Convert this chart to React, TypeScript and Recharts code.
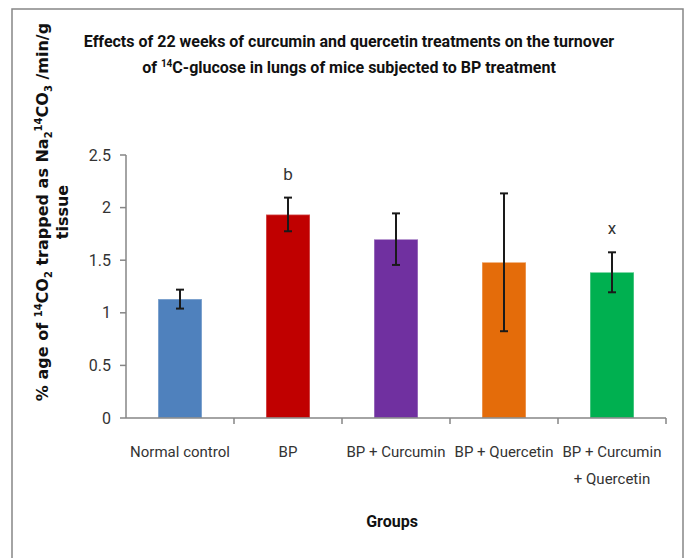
import {
  Bar,
  Cell,
  ComposedChart,
  ErrorBar,
  LabelList,
  Line,
  XAxis,
  YAxis,
} from "recharts";

const groups = [
  "Normal control",
  "BP",
  "BP + Curcumin",
  "BP + Quercetin",
  "BP + Curcumin\n+ Quercetin",
];
const means = [1.13, 1.935, 1.7, 1.48, 1.385];
const errors = [0.09, 0.16, 0.245, 0.655, 0.19];
const marks = ["", "b", "", "", "x"];
const barColors = ["#4F81BD", "#C00000", "#7030A0", "#E46C0A", "#00B050"];
const yTicks = [0, 0.5, 1, 1.5, 2, 2.5];

const data = groups.map((group, i) => ({
  group,
  mean: means[i],
  err: errors[i],
  top: means[i] + errors[i],
  mark: marks[i],
}));

const FONT = "Roboto, 'Liberation Sans', sans-serif";
const AXIS = "#868686";

function GroupTick(props: any) {
  const { x, y, payload } = props;
  const half = payload?.offset || 54;
  const lines = String(payload.value).split("\n");
  const axisY = y - 14;
  return (
    <g>
      <line x1={x + half} y1={axisY} x2={x + half} y2={axisY + 6} stroke={AXIS} strokeWidth={1.5} />
      <text x={x} y={axisY + 39} textAnchor="middle" fontFamily={FONT} fontSize={15} fill="#333">
        {lines.map((l, i) => (
          <tspan key={i} x={x} dy={i === 0 ? 0 : 27}>
            {l}
          </tspan>
        ))}
      </text>
    </g>
  );
}

function YLabel() {
  return (
    <g>
      <text
        transform="translate(48,212) rotate(-90)"
        textAnchor="middle"
        fontFamily="'DejaVu Sans', Verdana, sans-serif"
        fontWeight="bold"
        fontSize={16}
        fill="#111"
      >
        <tspan>% age of </tspan>
        <tspan fontSize={10} dy={-6}>14</tspan>
        <tspan dy={6}>CO</tspan>
        <tspan fontSize={10} dy={4}>2</tspan>
        <tspan dy={-4}> trapped as Na</tspan>
        <tspan fontSize={10} dy={4}>2</tspan>
        <tspan fontSize={10} dy={-10}>14</tspan>
        <tspan dy={6}>CO</tspan>
        <tspan fontSize={10} dy={4}>3</tspan>
        <tspan dy={-4}> /min/g</tspan>
      </text>
      <text
        transform="translate(68,212) rotate(-90)"
        textAnchor="middle"
        fontFamily="'DejaVu Sans', Verdana, sans-serif"
        fontWeight="bold"
        fontSize={16}
        fill="#111"
      >
        tissue
      </text>
    </g>
  );
}

export default function App() {
  return (
    <div style={{ position: "absolute", left: 0, top: 0, width: 686, height: 558, background: "#fff" }}>
      <svg width={686} height={558} style={{ position: "absolute", left: 0, top: 0 }}>
        <rect x={12} y={9} width={671} height={580} fill="none" stroke={AXIS} strokeWidth={1.5} />
        <text x={349} y={47} textAnchor="middle" fontFamily={FONT} fontWeight="bold" fontSize={16} fill="#111">
          Effects of 22 weeks of curcumin and quercetin treatments on the turnover
        </text>
        <text x={349} y={73} textAnchor="middle" fontFamily={FONT} fontWeight="bold" fontSize={16} fill="#111">
          <tspan>of </tspan>
          <tspan fontSize={10} dy={-6}>14</tspan>
          <tspan dy={6}>C-glucose in lungs of mice subjected to BP treatment</tspan>
        </text>
        <text x={392} y={527} textAnchor="middle" fontFamily={FONT} fontWeight="bold" fontSize={16} fill="#111">
          Groups
        </text>
        <YLabel />
      </svg>
      <div style={{ position: "absolute", left: 0, top: 0 }}>
        <ComposedChart
          width={686}
          height={558}
          data={data}
          margin={{ top: 155, right: 20, bottom: 60, left: 0 }}
        >
          <XAxis
            dataKey="group"
            axisLine={{ stroke: AXIS, strokeWidth: 1.5 }}
            tickLine={false}
            tick={<GroupTick />}
            interval={0}
            height={80}
            tickMargin={8}
          />
          <YAxis
            domain={[0, 2.5]}
            ticks={yTicks}
            width={126}
            axisLine={{ stroke: AXIS, strokeWidth: 1.5 }}
            tickLine={{ stroke: AXIS, strokeWidth: 1.5 }}
            tickSize={6}
            tickMargin={9}
            tick={{ fill: "#333", fontSize: 16, fontFamily: FONT }}
          />
          <Bar dataKey="mean" barSize={44} isAnimationActive={false}>
            {data.map((d, i) => (
              <Cell key={d.group} fill={barColors[i]} stroke="rgba(255,255,255,0.35)" strokeWidth={1.5} />
            ))}
            <ErrorBar dataKey="err" width={4} stroke="#1a1a1a" strokeWidth={2} />
          </Bar>
          <Line
            dataKey="top"
            stroke="none"
            dot={false}
            activeDot={false}
            legendType="none"
            isAnimationActive={false}
          >
            <LabelList
              dataKey="mark"
              position="top"
              offset={18}
              fill="#333"
              fontSize={17}
              fontFamily={FONT}
            />
          </Line>
        </ComposedChart>
      </div>
    </div>
  );
}
